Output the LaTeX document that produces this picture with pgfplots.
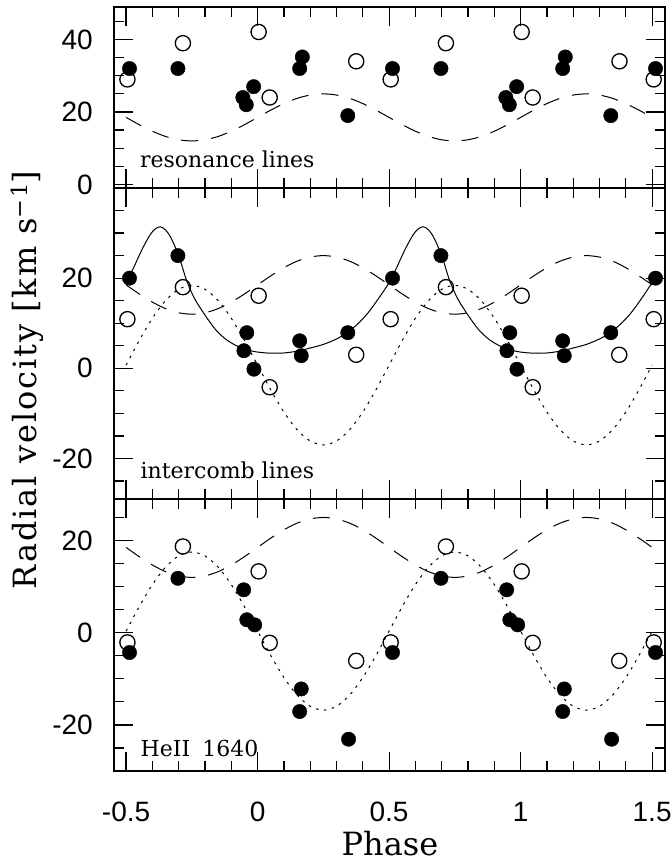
\documentclass[border=0pt]{standalone}
\usepackage{pgfplots}
\pgfplotsset{compat=1.18}
\usepackage{fontspec}
\setmainfont{DejaVu Serif}
\newfontfamily\ticksf{Liberation Sans}
\newfontfamily\ylabfont[LetterSpace=6]{DejaVu Serif}

\pgfplotsset{
  panel/.style={
    scale only axis, width=551pt,
    xmin=-0.546, xmax=1.549,
    axis line style={line width=1.8pt},
    every tick/.style={line width=1.2pt, black},
    major tick length=19pt, minor tick length=10pt,
    tick align=inside, xtick pos=both, ytick pos=both,
    xtick={-0.5,0,0.5,1,1.5},
    minor xtick={-0.4,-0.3,-0.2,-0.1,0.1,0.2,0.3,0.4,0.6,0.7,0.8,0.9,1.1,1.2,1.3,1.4},
    minor ytick={-25,-15,-10,-5,5,10,15,25,30,35,45},
    xticklabels={},
    tick label style={font=\fontsize{28}{28}\selectfont\ticksf},
    yticklabel style={anchor=east, inner sep=0pt, xshift=-21pt},
    xticklabel style={anchor=north, inner sep=0pt, yshift=-31pt},
    clip=false,
  },
  dashcurve/.style={black, line width=1pt, dash pattern=on 17pt off 13pt, smooth, no marks},
  dotcurve/.style={black, line width=1pt, dash pattern=on 2.5pt off 5.5pt, smooth, no marks},
  solidcurve/.style={black, line width=1pt, smooth, no marks},
  openpts/.style={only marks, mark=o, mark size=7.6pt, mark options={line width=1.3pt, black}},
  fillpts/.style={only marks, mark=*, mark size=7.2pt, mark options={fill=black, draw=black}},
}
\tikzset{panellabel/.style={anchor=base west, inner sep=0pt, font=\fontsize{22}{22}\selectfont}}

\begin{document}
\begin{tikzpicture}
\path[use as bounding box] (0,0) rectangle (672pt,-863pt);

% ---------------- top panel ----------------
\begin{axis}[panel, at={(114pt,-7pt)}, anchor=north west, height=181pt,
  ymin=-1, ymax=49, ytick={0,20,40}, yticklabels={0,20,40}]
\addplot[dashcurve] coordinates {(-0.5,18.5)(-0.45,16.49)(-0.4,14.68)(-0.35,13.24)(-0.3,12.32)(-0.25,12.0)(-0.2,12.32)(-0.15,13.24)(-0.1,14.68)(-0.05,16.49)(0,18.5)(0.05,20.51)(0.1,22.32)(0.15,23.76)(0.2,24.68)(0.25,25.0)(0.3,24.68)(0.35,23.76)(0.4,22.32)(0.45,20.51)(0.5,18.5)(0.55,16.49)(0.6,14.68)(0.65,13.24)(0.7,12.32)(0.75,12.0)(0.8,12.32)(0.85,13.24)(0.9,14.68)(0.95,16.49)(1,18.5)(1.05,20.51)(1.1,22.32)(1.15,23.76)(1.2,24.68)(1.25,25.0)(1.3,24.68)(1.35,23.76)(1.4,22.32)(1.45,20.51)(1.5,18.5)};
\addplot[openpts] coordinates {(-0.495,29)(-0.284,39)(0.004,42.1)(0.046,24)(0.375,34)(0.506,29)(0.716,39)(1.004,42.1)(1.046,24)(1.376,34)(1.506,29)};
\addplot[fillpts] coordinates {(-0.487,32)(-0.303,32)(-0.056,24)(-0.043,22)(-0.015,27)(0.16,32)(0.17,35.2)(0.343,19)(0.513,32)(0.697,32)(0.944,24)(0.957,22)(0.985,27)(1.16,32)(1.17,35.2)(1.343,19)(1.513,32)};
\node[panellabel] at (rel axis cs:0.047,0.112) {resonance lines};
\end{axis}

% ---------------- middle panel ----------------
\begin{axis}[panel, at={(114pt,-188pt)}, anchor=north west, height=311pt,
  ymin=-29, ymax=40, ytick={-20,0,20}, yticklabels={-20,0,20}]
\addplot[dashcurve] coordinates {(-0.5,18.5)(-0.45,16.49)(-0.4,14.68)(-0.35,13.24)(-0.3,12.32)(-0.25,12.0)(-0.2,12.32)(-0.15,13.24)(-0.1,14.68)(-0.05,16.49)(0,18.5)(0.05,20.51)(0.1,22.32)(0.15,23.76)(0.2,24.68)(0.25,25.0)(0.3,24.68)(0.35,23.76)(0.4,22.32)(0.45,20.51)(0.5,18.5)(0.55,16.49)(0.6,14.68)(0.65,13.24)(0.7,12.32)(0.75,12.0)(0.8,12.32)(0.85,13.24)(0.9,14.68)(0.95,16.49)(1,18.5)(1.05,20.51)(1.1,22.32)(1.15,23.76)(1.2,24.68)(1.25,25.0)(1.3,24.68)(1.35,23.76)(1.4,22.32)(1.45,20.51)(1.5,18.5)};
\addplot[dotcurve] coordinates {(-0.5,0.7)(-0.45,6.17)(-0.4,11.11)(-0.35,15.02)(-0.3,17.53)(-0.25,18.4)(-0.2,17.53)(-0.15,15.02)(-0.1,11.11)(-0.05,6.17)(0,0.7)(0.05,-4.77)(0.1,-9.71)(0.15,-13.62)(0.2,-16.13)(0.25,-17.0)(0.3,-16.13)(0.35,-13.62)(0.4,-9.71)(0.45,-4.77)(0.5,0.7)(0.55,6.17)(0.6,11.11)(0.65,15.02)(0.7,17.53)(0.75,18.4)(0.8,17.53)(0.85,15.02)(0.9,11.11)(0.95,6.17)(1,0.7)(1.05,-4.77)(1.1,-9.71)(1.15,-13.62)(1.2,-16.13)(1.25,-17.0)(1.3,-16.13)(1.35,-13.62)(1.4,-9.71)(1.45,-4.77)(1.5,0.7)};
\addplot[solidcurve] coordinates {(-0.5,19.0)(-0.47,22.5)(-0.44,26.3)(-0.41,29.5)(-0.39,30.9)(-0.37,31.4)(-0.35,30.7)(-0.33,29.0)(-0.30,25.0)(-0.27,19.5)(-0.24,15.5)(-0.20,11.8)(-0.16,8.6)(-0.12,6.4)(-0.08,5.0)(-0.04,4.1)(0,3.6)(0.05,3.35)(0.10,3.4)(0.15,3.8)(0.20,4.5)(0.25,5.3)(0.30,6.5)(0.34,7.9)(0.38,9.8)(0.42,12.3)(0.46,15.5)(0.50,19.0)(0.53,22.5)(0.56,26.3)(0.59,29.5)(0.61,30.9)(0.63,31.4)(0.65,30.7)(0.67,29.0)(0.70,25.0)(0.73,19.5)(0.76,15.5)(0.80,11.8)(0.84,8.6)(0.88,6.4)(0.92,5.0)(0.96,4.1)(1.00,3.6)(1.05,3.35)(1.10,3.4)(1.15,3.8)(1.20,4.5)(1.25,5.3)(1.30,6.5)(1.34,7.9)(1.38,9.8)(1.42,12.3)(1.46,15.5)(1.50,19.0)};
\addplot[openpts] coordinates {(-0.495,10.9)(-0.284,18)(0.004,16.1)(0.046,-4.2)(0.375,3)(0.506,10.9)(0.716,18)(1.004,16.1)(1.046,-4.2)(1.375,3)(1.506,10.9)};
\addplot[fillpts] coordinates {(-0.487,20)(-0.303,25)(-0.041,7.9)(-0.052,3.9)(-0.014,-0.2)(0.16,6.1)(0.166,2.8)(0.343,7.9)(0.513,20)(0.697,25)(0.959,7.9)(0.948,3.9)(0.986,-0.2)(1.16,6.1)(1.166,2.8)(1.343,7.9)(1.513,20)};
\node[panellabel] at (rel axis cs:0.048,0.0666) {intercomb lines};
\end{axis}

% ---------------- bottom panel ----------------
\begin{axis}[panel, at={(114pt,-499pt)}, anchor=north west, height=272pt,
  ymin=-30, ymax=29, ytick={-20,0,20}, yticklabels={-20,0,20},
  xticklabels={-0.5,0,0.5,1,1.5}]
\addplot[dashcurve] coordinates {(-0.5,18.5)(-0.45,16.49)(-0.4,14.68)(-0.35,13.24)(-0.3,12.32)(-0.25,12.0)(-0.2,12.32)(-0.15,13.24)(-0.1,14.68)(-0.05,16.49)(0,18.5)(0.05,20.51)(0.1,22.32)(0.15,23.76)(0.2,24.68)(0.25,25.0)(0.3,24.68)(0.35,23.76)(0.4,22.32)(0.45,20.51)(0.5,18.5)(0.55,16.49)(0.6,14.68)(0.65,13.24)(0.7,12.32)(0.75,12.0)(0.8,12.32)(0.85,13.24)(0.9,14.68)(0.95,16.49)(1,18.5)(1.05,20.51)(1.1,22.32)(1.15,23.76)(1.2,24.68)(1.25,25.0)(1.3,24.68)(1.35,23.76)(1.4,22.32)(1.45,20.51)(1.5,18.5)};
\addplot[dotcurve] coordinates {(-0.5,0.35)(-0.45,5.65)(-0.4,10.43)(-0.35,14.22)(-0.3,16.66)(-0.25,17.5)(-0.2,16.66)(-0.15,14.22)(-0.1,10.43)(-0.05,5.65)(0,0.35)(0.05,-4.95)(0.1,-9.73)(0.15,-13.52)(0.2,-15.96)(0.25,-16.8)(0.3,-15.96)(0.35,-13.52)(0.4,-9.73)(0.45,-4.95)(0.5,0.35)(0.55,5.65)(0.6,10.43)(0.65,14.22)(0.7,16.66)(0.75,17.5)(0.8,16.66)(0.85,14.22)(0.9,10.43)(0.95,5.65)(1,0.35)(1.05,-4.95)(1.1,-9.73)(1.15,-13.52)(1.2,-15.96)(1.25,-16.8)(1.3,-15.96)(1.35,-13.52)(1.4,-9.73)(1.45,-4.95)(1.5,0.35)};
\addplot[openpts] coordinates {(-0.495,-2.1)(-0.284,18.7)(0.004,13.3)(0.046,-2.2)(0.375,-6.1)(0.506,-2.1)(0.716,18.7)(1.004,13.3)(1.046,-2.2)(1.375,-6.1)(1.506,-2.1)};
\addplot[fillpts] coordinates {(-0.487,-4.3)(-0.303,11.8)(-0.053,9.3)(-0.041,2.8)(-0.011,1.7)(0.166,-12.2)(0.16,-17.1)(0.346,-23.1)(0.513,-4.3)(0.697,11.8)(0.947,9.3)(0.959,2.8)(0.989,1.7)(1.166,-12.2)(1.16,-17.1)(1.346,-23.1)(1.513,-4.3)};
\node[panellabel] at (rel axis cs:0.048,0.0526) {HeII\hspace{0.55em}1640};
\end{axis}

\node[rotate=90, inner sep=0pt, font=\fontsize{32}{32}\selectfont\ylabfont] at (27pt,-380pt) {Radial velocity [km s\textsuperscript{−1}]};
\node[anchor=base, inner sep=0pt, font=\fontsize{32}{32}\selectfont] at (390pt,-855pt) {Phase};
\end{tikzpicture}
\end{document}
